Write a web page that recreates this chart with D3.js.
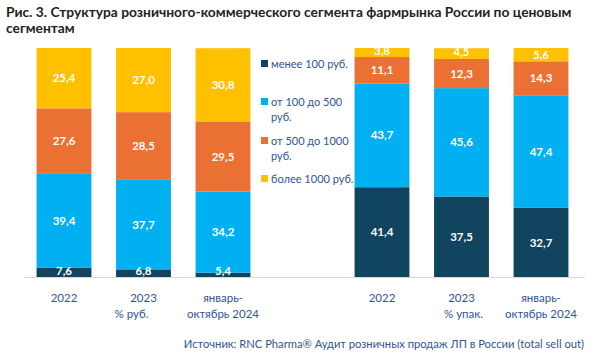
<!DOCTYPE html>
<html><head><meta charset="utf-8">
<script src="https://cdn.jsdelivr.net/npm/d3@7"></script>
<style>
body{margin:0;background:#fff;}
svg{display:block;font-family:Lato,"Noto Sans",sans-serif;}
</style></head>
<body><svg id="c" width="600" height="357"></svg>
<script>
const titleLines = ["Рис. 3. Структура розничного-коммерческого сегмента фармрынка России по ценовым", "сегментам"];
const categories = ["2022 руб", "2023 руб", "2024 руб", "gap", "2022 упак", "2023 упак", "2024 упак"];
const tickLabels = [["2022"], ["2023", "% руб."], ["январь-", "октябрь 2024"], [], ["2022"], ["2023", "% упак."], ["январь-", "октябрь 2024"]];
const seriesNames = ["менее 100 руб.", "от 100 до 500 руб.", "от 500 до 1000 руб.", "более 1000 руб."];
const legendLines = [["менее 100 руб."], ["от 100 до 500", "руб."], ["от 500 до 1000", "руб."], ["более 1000 руб."]];
const below100 = [7.6, 6.8, 5.4, null, 41.4, 37.5, 32.7];
const from100to500 = [39.4, 37.7, 34.2, null, 43.7, 45.6, 47.4];
const from500to1000 = [27.6, 28.5, 29.5, null, 11.1, 12.3, 14.3];
const above1000 = [25.4, 27.0, 30.8, null, 3.8, 4.5, 5.6];
const sourceText = "Источник: RNC Pharma® Аудит розничных продаж ЛП в России (total sell out)";
const colors = ["#11445e", "#00b0f0", "#ea7133", "#ffc000"];

const svg = d3.select("#c");
const seriesVals = [below100, from100to500, from500to1000, above1000];

const x = d3.scaleBand().domain(categories).range([24.25, 580.75]).paddingInner(0.31).paddingOuter(0.155);
const y = d3.scaleLinear().domain([3.6, 100]).range([277, 48]);

// title
svg.append("g").selectAll("text").data(titleLines).join("text")
  .attr("x", 6).attr("y", (d, i) => 17 + i * 16)
  .attr("font-size", 13.8).attr("font-weight", "bold").attr("fill", "#222")
  .text(d => d);

// stacked data
const rows = categories.map((c, i) => {
  const r = {cat: c};
  seriesVals.forEach((s, k) => r["s" + k] = s[i]);
  return r;
}).filter(r => r.s0 != null);
const stack = d3.stack().keys(["s0", "s1", "s2", "s3"]);
const stacked = stack(rows);

const clipId = "plotclip";
svg.append("clipPath").attr("id", clipId).append("rect")
  .attr("x", 0).attr("y", y(100) - 1).attr("width", 600).attr("height", y(3.6) - y(100) + 1);

const gBars = svg.append("g").attr("clip-path", `url(#${clipId})`);
stacked.forEach((layer, k) => {
  gBars.append("g").attr("fill", colors[k]).selectAll("rect").data(layer).join("rect")
    .attr("x", d => x(d.data.cat))
    .attr("width", x.bandwidth())
    .attr("y", d => y(d[1]))
    .attr("height", d => Math.max(0, y(Math.max(d[0], 3.6)) - y(d[1])));
});

// axis line
svg.append("line").attr("x1", 24).attr("x2", 585).attr("y1", 277.5).attr("y2", 277.5)
  .attr("stroke", "#d9d9d9").attr("stroke-width", 1);

// labels
stacked.forEach((layer, k) => {
  svg.append("g").selectAll("text").data(layer).join("text")
    .attr("x", d => x(d.data.cat) + x.bandwidth() / 2)
    .attr("y", d => {
      const lo = Math.max(d[0], 3.6);
      const mid = (y(lo) + y(d[1])) / 2;
      return k === 0 ? Math.min(mid, 272) : mid;
    })
    .attr("dy", d => (d[1] - Math.max(d[0], 3.6) < 5 ? "0.25em" : "0.36em"))
    .attr("text-anchor", "middle").attr("fill", "#fff").attr("font-weight", "bold").attr("font-size", 11.5)
    .text(d => d3.format(".1f")(d[1] - d[0]).replace(".", ","));
});

// x tick labels
const xt = svg.append("g");
categories.forEach((c, i) => {
  tickLabels[i].forEach((line, j) => {
    let dx = 0;
    if (j === 1 && i === 1) dx = -12;
    if (j === 1 && i === 5) dx = 2;
    xt.append("text")
      .attr("x", x(c) + x.bandwidth() / 2 + dx)
      .attr("y", 302 + j * 16)
      .attr("text-anchor", "middle").attr("fill", "#2f5597").attr("font-size", 11.5)
      .text(line);
  });
});

// legend
const lg = svg.append("g");
const legendY = [64, 102, 141, 179];
seriesNames.forEach((n, k) => {
  lg.append("rect").attr("x", 261).attr("y", legendY[k] - 4).attr("width", 7).attr("height", 7).attr("fill", colors[k]);
  legendLines[k].forEach((line, j) => {
    lg.append("text").attr("x", 271).attr("y", legendY[k] + j * 15.5).attr("dy", "0.35em")
      .attr("fill", "#2f5597").attr("font-size", 11).text(line);
  });
});

// source
svg.append("text").attr("x", 584).attr("y", 348).attr("text-anchor", "end")
  .attr("fill", "#2f5597").attr("font-size", 11.2).text(sourceText);
</script></body></html>
